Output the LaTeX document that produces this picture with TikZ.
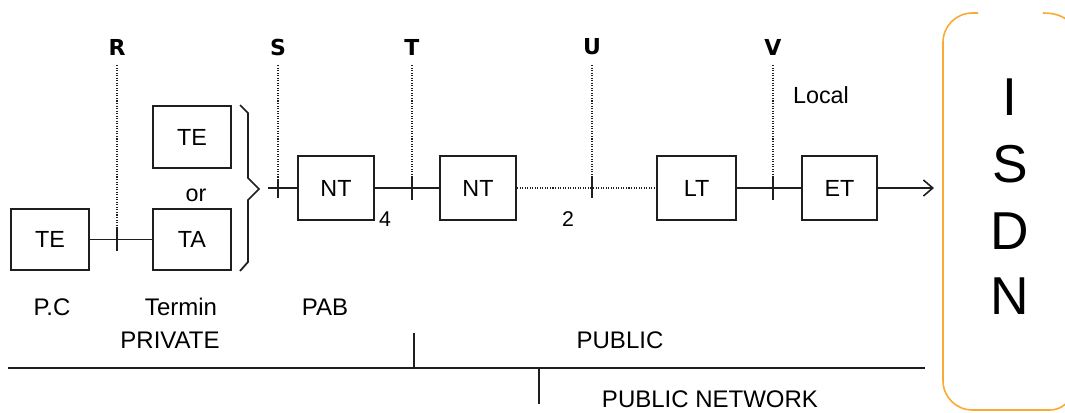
\documentclass[tikz,border=0pt]{standalone}
\usepackage{fontspec}
\setmainfont{Liberation Sans}
\newfontfamily\lblfont{DejaVu Sans}
\usetikzlibrary{arrows.meta}
\definecolor{isdnorange}{RGB}{250,170,50}
\definecolor{inkgray}{RGB}{30,30,30}
\begin{document}
\begin{tikzpicture}[x=0.75pt,y=-0.75pt,
  box/.style={draw=inkgray, line width=1.45pt, minimum width=58.5pt, minimum height=46pt, inner sep=0pt, font=\fontsize{17.5}{20}\selectfont},
  wire/.style={draw=inkgray, line width=1.45pt},
  dotwire/.style={draw=inkgray, line width=1pt, dash pattern=on 0.8pt off 1.1pt},
  tickmark/.style={draw=inkgray, line width=1.4pt},
  lbl/.style={font=\fontsize{17.5}{20}\selectfont, inner sep=0pt},
  biglbl/.style={font=\fontsize{18}{21}\selectfont, inner sep=0pt},
  numlbl/.style={font=\fontsize{16}{19}\selectfont, inner sep=0pt},
  iface/.style={font=\lblfont\bfseries\fontsize{16.5}{19}\selectfont, inner sep=0pt},
  isdnletter/.style={font=\fontsize{40}{48}\selectfont, inner sep=0pt},
  isdnbox/.style={draw=isdnorange, line width=1.2pt, rounded corners=22pt},
  isdnarc/.style={draw=isdnorange, line width=1.2pt}
]
\useasboundingbox (0,0) rectangle (1065,412);
\clip (0,0) rectangle (1065,412);

% boxes
\node[box] (te1) at (50,239.5) {TE};
\node[box] (te2) at (192,137) {TE};
\node[box] (ta) at (192,239.5) {TA};
\node[box, minimum width=57pt, minimum height=48pt] (nt1) at (336,188) {NT};
\node[box, minimum width=57pt, minimum height=48pt] (nt2) at (478,188) {NT};
\node[box, minimum width=59.25pt, minimum height=48pt] (lt) at (696.5,188) {LT};
\node[box, minimum width=56.25pt, minimum height=48pt] (et) at (839.5,188) {ET};

% small labels
\node[lbl] (or) at (196,195) {or};
\node[numlbl] (four) at (385,219) {4};
\node[numlbl] (two) at (568,219) {2};
\node[lbl] (local) at (821,95) {Local};

% interface labels
\node[iface] (R) at (117,47) {R};
\node[iface] (S) at (278,47) {S};
\node[iface] (T) at (412,47) {T};
\node[iface] (U) at (592,47) {U};
\node[iface] (V) at (773,47) {V};

% reference point coordinates
\coordinate (Rtop) at (117,65);   \coordinate (Ra) at (117,228); \coordinate (Rb) at (117,251);
\coordinate (Stop) at (278,65);   \coordinate (Sa) at (278,179); \coordinate (Sb) at (278,198);
\coordinate (Ttop) at (412,65);   \coordinate (Ta) at (412,178); \coordinate (Tb) at (412,200);
\coordinate (Utop) at (592,65);   \coordinate (Ua) at (592,178); \coordinate (Ub) at (592,198);
\coordinate (Vtop) at (773,65);   \coordinate (Va) at (773,178); \coordinate (Vb) at (773,200);

\draw[dotwire] (Rtop) -- (Ra);
\draw[dotwire] (Stop) -- (Sa);
\draw[dotwire] (Ttop) -- (Ta);
\draw[dotwire] (Utop) -- (Ua);
\draw[dotwire] (Vtop) -- (Va);
\draw[tickmark] (Ra) -- (Rb);
\draw[tickmark] (Sa) -- (Sb);
\draw[tickmark] (Ta) -- (Tb);
\draw[tickmark] (Ua) -- (Ub);
\draw[tickmark] (Va) -- (Vb);

% connectors
\draw[wire] (te1.east) -- (ta.west);
\coordinate (sin) at (268,188);
\draw[wire] (sin) -- (nt1.west);
\draw[wire] (nt1.east) -- (nt2.west);
\draw[dotwire] (nt2.east) -- (lt.west);
\draw[wire] (lt.east) -- (et.west);
\coordinate (isdnin) at (934,188);
\draw[wire, -{Straight Barb[length=7pt,width=12pt,line width=1.2pt]}] (et.east) -- (isdnin);

% brace
\draw[wire, line width=1.3pt] (240,105) -- (248,113) -- (248,178) -- (259,189) -- (248,200) -- (248,262) -- (240,271);

% bottom labels
\node[biglbl] (pc) at (52,307) {P.C};
\node[biglbl] (termin) at (181,307) {Termin};
\node[biglbl] (pab) at (325,307) {PAB};
\node[biglbl] (private) at (170,340) {PRIVATE};
\node[biglbl] (public) at (620,340) {PUBLIC};
\node[biglbl] (pubnet) at (710,399) {PUBLIC NETWORK};

% bottom lines
\coordinate (bl) at (8,368); \coordinate (br) at (925,368);
\coordinate (d1a) at (414,333); \coordinate (d1b) at (414,368);
\coordinate (d2a) at (539,368); \coordinate (d2b) at (539,404);
\draw[wire] (bl) -- (br);
\draw[wire] (d1a) -- (d1b);
\draw[wire] (d2a) -- (d2b);

% ISDN box
\draw[isdnbox] (978,13) -- (943,13) -- (943,410) -- (1050,410);
\draw[isdnarc] (1049,410) .. controls (1060,410) and (1066,405) .. (1072,396);
\draw[isdnarc] (1043,13) .. controls (1057,13) and (1066,17) .. (1073,26);
\node[isdnletter] (I) at (1010,97) {I};
\node[isdnletter] (Sx) at (1010,164) {S};
\node[isdnletter] (D) at (1010,231) {D};
\node[isdnletter] (N) at (1010,296) {N};
\end{tikzpicture}
\end{document}
